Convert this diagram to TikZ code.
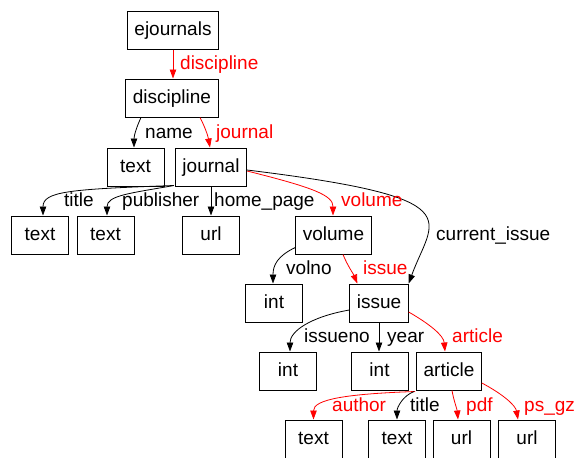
\documentclass[tikz,border=0pt]{standalone}
\usepackage{fontspec}
\setmainfont{Liberation Sans}
\usetikzlibrary{arrows.meta}
\begin{document}
\begin{tikzpicture}[x=1pt,y=1pt,
  every node/.style={font=\fontsize{19pt}{22pt}\selectfont},
  box/.style={draw, line width=1pt, minimum width=57pt, minimum height=38pt, inner xsep=7pt, inner ysep=0pt, text height=14pt, text depth=4pt},
  lbl/.style={anchor=base west, inner sep=0pt},
  rlbl/.style={lbl, text=red},
  arr/.style={line width=0.8pt, -{Triangle[length=9pt,width=6.5pt]}},
  rarr/.style={arr, draw=red, -{Triangle[length=9pt,width=6.5pt,fill=red]}}]
\useasboundingbox (0,0) rectangle (574,-458);

% tree nodes
\node[box] (ej)      at (173,-30)   {ejournals};
\node[box] (disc)    at (172,-98)   {discipline};
\node[box] (tname)   at (135.5,-167) {text};
\node[box] (jour)    at (211,-167)  {journal};
\node[box] (ttitle)  at (40,-235)   {text};
\node[box] (tpub)    at (105.5,-235) {text};
\node[box] (uhome)   at (211,-235)  {url};
\node[box] (vol)     at (333.5,-235) {volume};
\node[box] (ivol)    at (274,-303)  {int};
\node[box] (iss)     at (379,-303)  {issue};
\node[box] (iissno)  at (288,-371)  {int};
\node[box] (iyear)   at (379.5,-371) {int};
\node[box] (art)     at (449,-371)  {article};
\node[box] (tauth)   at (313.5,-439) {text};
\node[box] (ttitle2) at (397,-439)  {text};
\node[box] (upd)     at (461.5,-439) {url};
\node[box] (ups)     at (527,-439)  {url};

% connectors
\draw[rarr] (ej.south) -- (ej.south |- disc.north);
\draw[arr] ([xshift=-31pt]disc.south) to[out=-115,in=90,out distance=10pt,in distance=12pt] ([xshift=-1.5pt]tname.north);
\draw[rarr] ([xshift=28pt]disc.south) to[out=-62,in=100,out distance=10pt,in distance=12pt] ([xshift=-1pt]jour.north);

\draw[arr] ([xshift=-1pt,yshift=1pt]jour.south west) to[out=182,in=90,out distance=105pt,in distance=24pt] ([xshift=3pt]ttitle.north);
\draw[arr] ([xshift=-1pt,yshift=1pt]jour.south west) to[out=190,in=90,out distance=45pt,in distance=20pt] ([xshift=1.5pt]tpub.north);
\draw[arr] (jour.south) -- (uhome.north);
\draw[rarr] ([yshift=-4pt]jour.east) to[out=-14,in=90,out distance=70pt,in distance=20pt] ([xshift=-0.5pt]vol.north);
\draw[arr] ([yshift=-3pt]jour.east) to[out=-7,in=70,out distance=230pt,in distance=70pt] (iss.north east);

\draw[arr] ([yshift=7pt]vol.south west) to[out=205,in=90,out distance=20pt,in distance=18pt] ([xshift=-1pt]ivol.north);
\draw[rarr] ([xshift=9.5pt]vol.south) to[out=-68,in=112,out distance=12pt,in distance=10pt] ([xshift=8pt]iss.north west);

\draw[arr] ([yshift=-7pt]iss.west) to[out=190,in=90,out distance=40pt,in distance=20pt] ([xshift=2pt]iissno.north);
\draw[arr] (iss.south) -- (iss.south |- iyear.north);
\draw[rarr] ([yshift=-9pt]iss.east) to[out=-30,in=95,out distance=25pt,in distance=16pt] ([xshift=-4pt]art.north);

\draw[rarr] ([xshift=-1pt,yshift=-1pt]art.south west) to[out=182,in=90,out distance=70pt,in distance=20pt] (tauth.north);
\draw[arr] ([xshift=-2pt,yshift=-1pt]art.south west) to[out=200,in=90,out distance=12pt,in distance=12pt] (ttitle2.north);
\draw[rarr] ([xshift=3pt]art.south) to[out=-80,in=95,out distance=10pt,in distance=10pt] ([xshift=-3.5pt]upd.north);
\draw[rarr] ([yshift=-12pt]art.east) to[out=-28,in=100,out distance=25pt,in distance=14pt] ([xshift=-9pt]ups.north);

% edge labels
\node[rlbl] (l-disc)   at (180,-69)  {discipline};
\node[lbl]  (l-name)   at (145,-138) {name};
\node[rlbl] (l-jour)   at (216,-138) {journal};
\node[lbl]  (l-title)  at (64,-206)  {title};
\node[lbl]  (l-pub)    at (122,-206) {publisher};
\node[lbl]  (l-home)   at (214,-206) {home\_page};
\node[rlbl] (l-vol)    at (341,-206) {volume};
\node[lbl]  (l-cur)    at (436,-240) {current\_issue};
\node[lbl]  (l-volno)  at (286,-274) {volno};
\node[rlbl] (l-iss)    at (363,-274) {issue};
\node[lbl]  (l-issno)  at (304,-342) {issueno};
\node[lbl]  (l-year)   at (387,-342) {year};
\node[rlbl] (l-art)    at (452,-342) {article};
\node[rlbl] (l-auth)   at (332,-411) {author};
\node[lbl]  (l-title2) at (410,-411) {title};
\node[rlbl] (l-pdf)    at (466,-411) {pdf};
\node[rlbl] (l-psgz)   at (524,-411) {ps\_gz};
\end{tikzpicture}
\end{document}
